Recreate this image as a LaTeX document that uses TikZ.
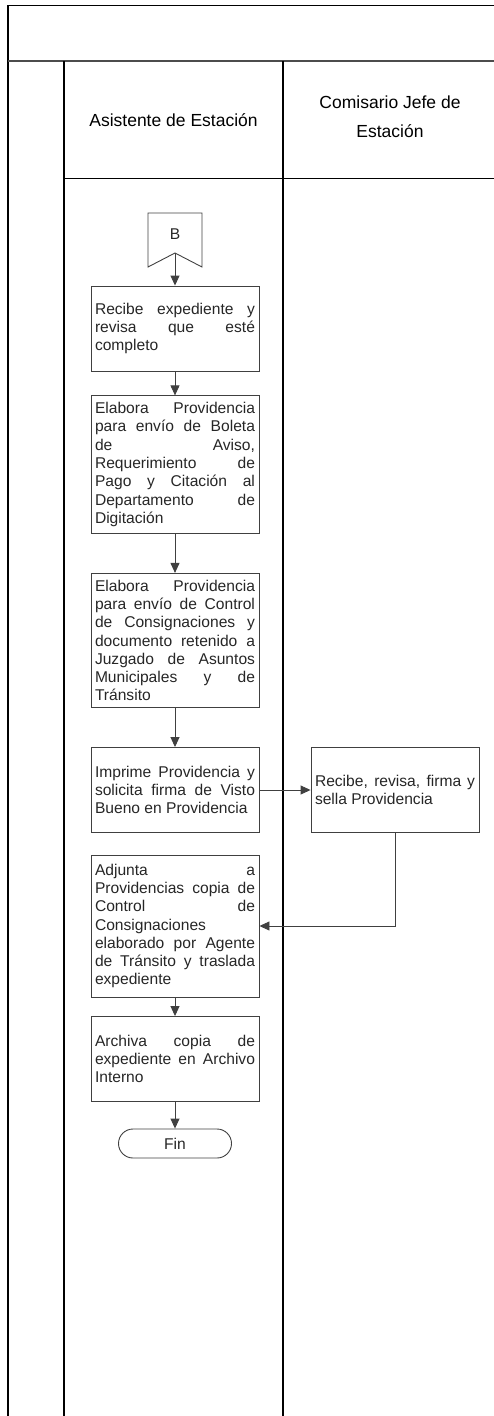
\documentclass[tikz,border=0pt]{standalone}
\usepackage{fontspec}
\setmainfont{Liberation Sans}
\usetikzlibrary{arrows.meta,positioning}
\newcommand{\boxfont}{\fontsize{15.6}{18.3}\selectfont\tolerance=10000\relax\hyphenpenalty=10000\relax}

\begin{document}
\begin{tikzpicture}[x=1pt,y=-1pt,
	box/.style={draw=black!75,line width=0.9pt,text width=160pt,inner xsep=4pt,inner ysep=6.5pt,minimum height=85pt,align=justify,text=black!85,font=\boxfont},
	lane/.style={line width=1.3pt},
	arr/.style={draw=black!75,line width=0.9pt,-{Triangle[length=10pt,width=9pt]}},
	head/.style={align=center,font=\fontsize{17.5}{29}\selectfont}]
	\useasboundingbox (0,0) rectangle (494,1416);

	\draw[line width=1pt  ] (8,5  ) -- (494,5  );
	\draw[lane            ] (8,5  ) -- (8,1416 );
	\draw[line width=1.8pt,black!70] (8,61 ) -- (494,61 );
	\draw[lane            ] (64,61) -- (64,1416);
	\draw[lane            ] (283,61) -- (283,1416);
	\draw[line width=1pt  ] (64,178) -- (494,178);

	\node[head] (asistente) at (173.5,120  ) {Asistente de Estación};
	\node[head] (comisario) at (390,116.5  ) {Comisario Jefe de\\Estación};

	\draw[draw=black!75,line width=0.9pt] (148,213) -- (202,213) -- (202,267) -- (175,253) -- (148,267) -- cycle;
	\node[text=black!85,font=\boxfont] (conB) at (175,234) {B};
	\coordinate (conBtip) at (175,253);

	\node[box] (recibe) at (175,328.5) {Recibe expediente y\linebreak revisa que esté\linebreak completo};
	\node[box] (boleta) at (175,464.5) {Elabora Providencia\linebreak para envío de Boleta\linebreak de Aviso,\linebreak Requerimiento de\linebreak Pago y Citación al\linebreak Departamento de\linebreak Digitación};
	\node[box] (control) at (175,640.5) {Elabora Providencia\linebreak para envío de Control\linebreak de Consignaciones y\linebreak documento retenido a\linebreak Juzgado de Asuntos\linebreak Municipales y de\linebreak Tránsito};
	\node[box] (imprime) at (175,790) {Imprime Providencia y\linebreak solicita firma de Visto\linebreak Bueno en Providencia};
	\node[box] (revisa) at (395,790) {Recibe, revisa, firma y\linebreak sella Providencia};
	\node[box,minimum height=142pt] (adjunta) at (175,926) {Adjunta a\linebreak Providencias copia de\linebreak Control de\linebreak Consignaciones\linebreak elaborado por Agente\linebreak de Tránsito y traslada\linebreak expediente};
	\node[box] (archiva) at (175,1059) {Archiva copia de\linebreak expediente en Archivo\linebreak Interno};
	\node[draw=black!75,line width=0.9pt,rounded corners=14.5pt,minimum width=113pt,minimum height=29pt,text=black!85,font=\boxfont] (fin) at (175,1143.5) {Fin};

	\draw[arr] (conBtip) -- (recibe);
	\draw[arr] (recibe)  -- (boleta);
	\draw[arr] (boleta)  -- (control);
	\draw[arr] (control) -- (imprime);
	\draw[arr] (imprime) -- (revisa);
	\draw[arr] (revisa)  |- (adjunta);
	\draw[arr] (adjunta) -- (archiva);
	\draw[arr] (archiva) -- (fin);
\end{tikzpicture}
\end{document}
